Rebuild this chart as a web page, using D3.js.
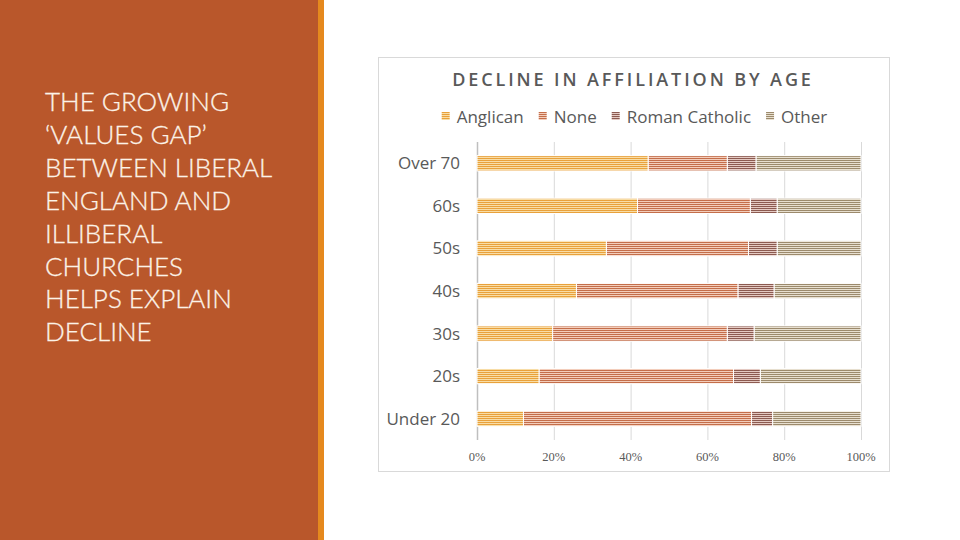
<!DOCTYPE html>
<html><head><meta charset="utf-8">
<script src="https://cdn.jsdelivr.net/npm/d3@7"></script>
<style>body{margin:0;background:#fff;}svg{display:block;}</style>
</head><body>
<svg id="c" width="960" height="540"></svg>
<script>
const categories = ["Over 70","60s","50s","40s","30s","20s","Under 20"];
const seriesNames = ["Anglican","None","Roman Catholic","Other"];
const anglican = [44.6,41.8,33.7,25.9,19.7,16.2,12.1];
const none     = [20.6,29.4,37.0,42.1,45.5,50.6,59.4];
const catholic = [7.5,7.0,7.5,9.4,7.0,7.0,5.5];
const other    = [27.3,21.8,21.8,22.6,27.8,26.2,23.0];
const tickLabels = ["0%","20%","40%","60%","80%","100%"];
const titleLines = ["THE GROWING","‘VALUES GAP’","BETWEEN LIBERAL","ENGLAND AND","ILLIBERAL","CHURCHES","HELPS EXPLAIN","DECLINE"];

const dark  = ["#E9A13B","#C46E4A","#8C5A50","#9C8A6C"];
const light = ["#F8DDA6","#F3CDBB","#E4C9C2","#E7DFCF"];

const svg = d3.select("#c");
const defs = svg.append("defs");
seriesNames.forEach((s,i)=>{
  const p = defs.append("pattern").attr("id","p"+i).attr("patternUnits","userSpaceOnUse")
    .attr("width",4).attr("height",2);
  p.append("rect").attr("width",4).attr("height",2).attr("fill",light[i]);
  p.append("rect").attr("width",4).attr("height",1).attr("fill",dark[i]);
});

// left panel
svg.append("rect").attr("x",0).attr("y",0).attr("width",318).attr("height",540).attr("fill","#B9572B");
svg.append("rect").attr("x",318).attr("y",0).attr("width",6).attr("height",540).attr("fill","#E5891E");
svg.append("text").attr("x",45).attr("font-family","Lato, 'Open Sans', sans-serif").attr("font-weight",300)
  .attr("font-size",26).attr("fill","#FCF3E8").attr("stroke","#FCF3E8").attr("stroke-width",0.3)
  .selectAll("tspan").data(titleLines).join("tspan")
  .attr("x",45).attr("y",(d,i)=>111+i*32.9).text(d=>d);

// chart frame
svg.append("rect").attr("x",378.5).attr("y",57.5).attr("width",511).attr("height",414)
  .attr("fill","#fff").attr("stroke","#D9D9D9");

svg.append("text").attr("x",633).attr("y",86).attr("text-anchor","middle")
  .attr("font-family","'Open Sans', sans-serif").attr("font-weight",600).attr("font-size",18)
  .attr("letter-spacing",2.9).attr("fill","#595959").text("DECLINE IN AFFILIATION BY AGE");

const x = d3.scaleLinear().domain([0,100]).range([477,861]);
const y = d3.scaleBand().domain(categories).range([142,440]).paddingInner(0.64).paddingOuter(0.32);

// gridlines
svg.append("g").selectAll("line").data(d3.range(0,101,20)).join("line")
  .attr("x1",d=>x(d)+0.5).attr("x2",d=>x(d)+0.5).attr("y1",142).attr("y2",440)
  .attr("stroke",d=>d===0?"#BFBFBF":"#D9D9D9").attr("stroke-width",d=>d===0?1.5:1);

const series = [anglican,none,catholic,other];
const rows = categories.map((c,i)=>{
  let acc=0; return series.map((s,k)=>{const v=s[i]; const r={c,k,x0:acc,x1:acc+v}; acc+=v; return r;});
});
svg.append("g").selectAll("g").data(rows).join("g").selectAll("rect").data(d=>d).join("rect")
  .attr("x",d=>x(d.x0)).attr("width",d=>x(d.x1)-x(d.x0))
  .attr("y",d=>y(d.c)).attr("height",y.bandwidth())
  .attr("fill",d=>`url(#p${d.k})`).attr("stroke","#fff").attr("stroke-width",1);

// category labels
svg.append("g").selectAll("text").data(categories).join("text")
  .attr("x",460).attr("y",d=>y(d)+y.bandwidth()/2+6).attr("text-anchor","end")
  .attr("font-family","'Open Sans', sans-serif").attr("font-size",17).attr("fill","#595959").text(d=>d);

// x tick labels
svg.append("g").selectAll("text").data(tickLabels).join("text")
  .attr("x",(d,i)=>x(i*20)).attr("y",461).attr("text-anchor","middle")
  .attr("font-family","'Liberation Serif', serif").attr("font-size",12.5).attr("fill","#595959").text(d=>d);

// legend
const lg = svg.append("g");
let lx = 440;
seriesNames.forEach((s,i)=>{
  lg.append("rect").attr("x",lx).attr("y",112).attr("width",8).attr("height",8).attr("fill",`url(#p${i})`);
  const t = lg.append("text").attr("x",lx+15).attr("y",122.5).attr("font-family","'Open Sans', sans-serif")
    .attr("font-size",17).attr("fill","#595959").text(s);
  lx += 15 + t.node().getComputedTextLength() + 15;
});
const bb = lg.node().getBBox();
lg.attr("transform",`translate(${634.5 - (bb.x+bb.width/2)},0)`);
</script>
</body></html>
